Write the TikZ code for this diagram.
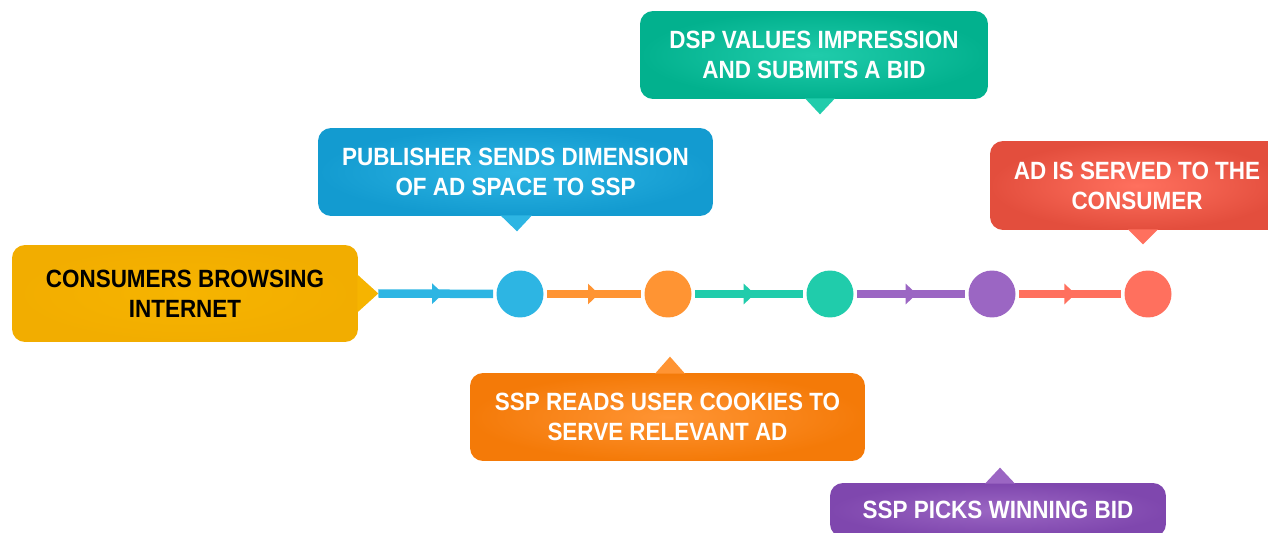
\documentclass[tikz,border=0pt]{standalone}
\usepackage{fontspec}
\setmainfont{Liberation Sans}[FakeStretch=0.9]
\usetikzlibrary{arrows.meta,decorations.markings}

\definecolor{ylw}{HTML}{F6B400}
\definecolor{ylwD}{HTML}{F2AD00}
\definecolor{blu}{HTML}{2DB5E3}
\definecolor{bluD}{HTML}{139BD0}
\definecolor{org}{HTML}{FF9433}
\definecolor{orgD}{HTML}{F47A08}
\definecolor{tea}{HTML}{20CCAB}
\definecolor{teaD}{HTML}{02B18E}
\definecolor{pur}{HTML}{9B66C3}
\definecolor{purD}{HTML}{7F47AE}
\definecolor{rd}{HTML}{FF705E}
\definecolor{rdD}{HTML}{E34E3D}

\begin{document}
\begin{tikzpicture}[
  x=0.02cm,y=-0.02cm,
  font=\fontsize{14.2}{17}\selectfont\bfseries,
  dot/.style={circle,fill=#1,minimum size=0.94cm,inner sep=0pt},
  seg/.style={draw=#1,line width=0.17cm,shorten >=0.06cm,shorten <=0.06cm,
              postaction={decorate},
              decoration={markings,mark=at position 0.55 with
                {\arrow[#1]{Triangle[length=0.22cm,width=0.4cm]}}}},
  bubble/.style 2 args={rounded corners=0.26cm,inner color=#1,outer color=#2,
              text=white,align=center,inner sep=0pt}]
\clip (0,0) rectangle (1268,533);

% start box with its pointer
\node[bubble={ylw}{ylwD},text=black,minimum width=6.92cm,minimum height=1.94cm]
  (src) at (185,293.5) {CONSUMERS BROWSING\\INTERNET};
\fill[ylw] ([yshift=0.38cm,xshift=-0.02cm]src.east) -- ++(0.42cm,-0.38cm) coordinate (srctip)
  -- ([yshift=-0.38cm,xshift=-0.02cm]src.east) -- cycle;

% steps on the line
\node[dot=blu] (c1) at (520,294) {};
\node[dot=org] (c2) at (668,294) {};
\node[dot=tea] (c3) at (830,294) {};
\node[dot=pur] (c4) at (992,294) {};
\node[dot=rd]  (c5) at (1148,294) {};

\draw[seg=blu,shorten <=0pt] (srctip) -- (c1);
\draw[seg=org] (c1) -- (c2);
\draw[seg=tea] (c2) -- (c3);
\draw[seg=pur] (c3) -- (c4);
\draw[seg=rd]  (c4) -- (c5);

% callouts above the line
\node[bubble={blu}{bluD},minimum width=7.9cm,minimum height=1.76cm]
  (pub) at (515.5,172) {PUBLISHER SENDS DIMENSION\\OF AD SPACE TO SSP};
\fill[blu] ([xshift=-0.3cm,yshift=0.02cm]pub.south) -- ([xshift=0.03cm,yshift=-0.3cm]pub.south)
  -- ([xshift=0.33cm,yshift=0.02cm]pub.south) -- cycle;

\node[bubble={tea}{teaD},minimum width=6.96cm,minimum height=1.76cm]
  (dsp) at (814,55) {DSP VALUES IMPRESSION\\AND SUBMITS A BID};
\fill[tea] ([xshift=-0.18cm,yshift=0.02cm]dsp.south) -- ([xshift=0.12cm,yshift=-0.3cm]dsp.south)
  -- ([xshift=0.42cm,yshift=0.02cm]dsp.south) -- cycle;

\node[bubble={rd}{rdD},minimum width=5.88cm,minimum height=1.78cm]
  (srv) at (1137,185.5) {AD IS SERVED TO THE\\CONSUMER};
\fill[rd] ([xshift=-0.18cm,yshift=0.02cm]srv.south) -- ([xshift=0.12cm,yshift=-0.28cm]srv.south)
  -- ([xshift=0.42cm,yshift=0.02cm]srv.south) -- cycle;

% callouts below the line
\node[bubble={org}{orgD},minimum width=7.9cm,minimum height=1.76cm]
  (ssp) at (667.5,417) {SSP READS USER COOKIES TO\\SERVE RELEVANT AD};
\fill[org] ([xshift=-0.25cm,yshift=-0.02cm]ssp.north) -- ([xshift=0.05cm,yshift=0.32cm]ssp.north)
  -- ([xshift=0.35cm,yshift=-0.02cm]ssp.north) -- cycle;

\node[bubble={pur}{purD},minimum width=6.72cm,minimum height=1.08cm]
  (win) at (998,510) {SSP PICKS WINNING BID};
\fill[pur] ([xshift=-0.26cm,yshift=-0.02cm]win.north) -- ([xshift=0.04cm,yshift=0.3cm]win.north)
  -- ([xshift=0.34cm,yshift=-0.02cm]win.north) -- cycle;
\end{tikzpicture}
\end{document}
